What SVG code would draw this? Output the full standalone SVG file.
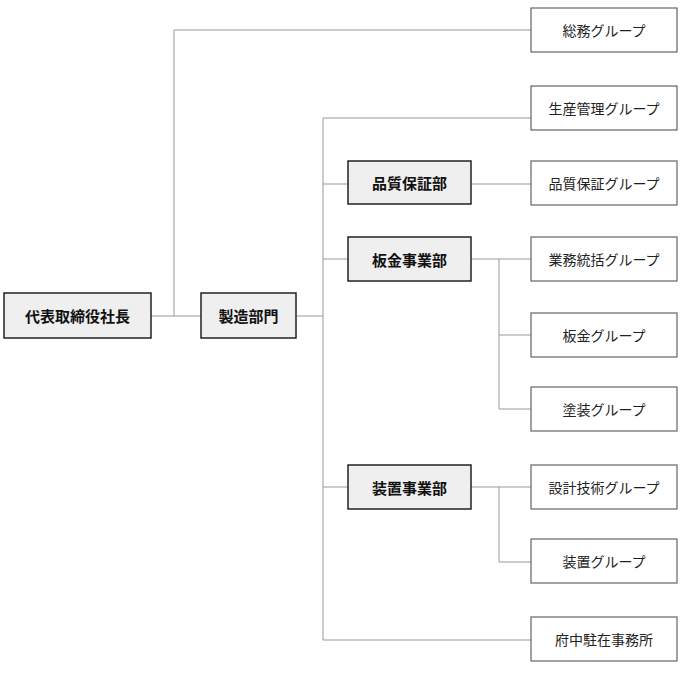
<svg xmlns="http://www.w3.org/2000/svg" width="682" height="688" viewBox="0 0 682 688">
<style>
.m{fill:#efefef;stroke:#222;stroke-width:1.5}
.g{fill:#fff;stroke:#444;stroke-width:1}
.tm{font-family:"Noto Sans CJK JP",sans-serif;font-size:15px;font-weight:bold;fill:#111;text-anchor:middle;dominant-baseline:central}
.tg{font-family:"Noto Sans CJK JP",sans-serif;font-size:14px;fill:#222;text-anchor:middle;dominant-baseline:central}
#c path{fill:none;stroke:#999;stroke-width:1}
</style>
<rect width="682" height="688" fill="#fff"/>
<g id="c">
<path d="M151 316H201M174 316V30H531M296 316H323M323 118V640M323 118H531M323 184H348M471 184H531M323 259H348M471 259H531M499 259V409M499 335H531M499 409H531M323 487H348M471 487H531M499 487V562H531M323 640H531"/>
</g>
<g id="n1"><rect class="m" x="4" y="293" width="147" height="45"/><text class="tm" x="77.5" y="315.5">代表取締役社長</text></g>
<g id="n2"><rect class="m" x="201" y="293" width="95" height="45"/><text class="tm" x="248.5" y="315.5">製造部門</text></g>
<g id="n3"><rect class="m" x="348" y="161" width="123" height="43"/><text class="tm" x="409.5" y="182.5">品質保証部</text></g>
<g id="n4"><rect class="m" x="348" y="237" width="123" height="44"/><text class="tm" x="409.5" y="259">板金事業部</text></g>
<g id="n5"><rect class="m" x="348" y="465" width="123" height="44"/><text class="tm" x="409.5" y="487">装置事業部</text></g>
<g id="g1"><rect class="g" x="531" y="8" width="146" height="44"/><text class="tg" x="604" y="30">総務グループ</text></g>
<g id="g2"><rect class="g" x="531" y="86" width="146" height="44"/><text class="tg" x="604" y="108">生産管理グループ</text></g>
<g id="g3"><rect class="g" x="531" y="161" width="146" height="44"/><text class="tg" x="604" y="183">品質保証グループ</text></g>
<g id="g4"><rect class="g" x="531" y="237" width="146" height="44"/><text class="tg" x="604" y="259">業務統括グループ</text></g>
<g id="g5"><rect class="g" x="531" y="313" width="146" height="44"/><text class="tg" x="604" y="335">板金グループ</text></g>
<g id="g6"><rect class="g" x="531" y="387" width="146" height="44"/><text class="tg" x="604" y="409">塗装グループ</text></g>
<g id="g7"><rect class="g" x="531" y="465" width="146" height="44"/><text class="tg" x="604" y="487">設計技術グループ</text></g>
<g id="g8"><rect class="g" x="531" y="539" width="146" height="44"/><text class="tg" x="604" y="561">装置グループ</text></g>
<g id="g9"><rect class="g" x="531" y="617" width="146" height="44"/><text class="tg" x="604" y="639">府中駐在事務所</text></g>
</svg>
